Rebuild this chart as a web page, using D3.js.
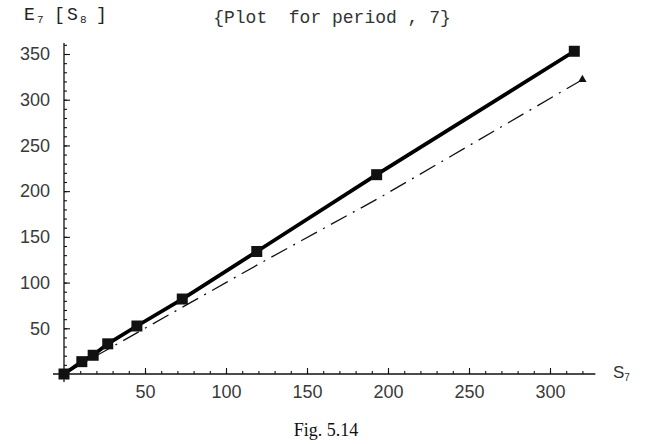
<!DOCTYPE html>
<html>
<head>
<meta charset="utf-8">
<script src="https://cdn.jsdelivr.net/npm/d3@7/dist/d3.min.js"></script>
<style>
  html, body { margin: 0; padding: 0; background: #fff; }
  svg { display: block; }
</style>
</head>
<body>
<svg id="chart" width="652" height="444"></svg>
<script>
// S7 values and the corresponding E7[S8] values
const sValues = [0, 11, 18, 27, 45, 73, 119, 193, 315];
const eValues = [0, 13.5, 20.5, 33, 52.5, 82, 134, 218, 353];

// reference line (dot-dash), ending in a triangle marker
const refS = [0, 45, 120, 195, 320];
const refE = [0, 45, 120, 193, 322];

const xTicks = [50, 100, 150, 200, 250, 300];
const yTicks = [50, 100, 150, 200, 250, 300, 350];

const svg = d3.select("#chart");

const x = d3.scaleLinear().domain([0, 300]).range([64, 550]);
const y = d3.scaleLinear().domain([0, 350]).range([374, 54]);

const xMax = 328, yMax = 362;
const axisColor = "#111";
const labelFont = "'Liberation Sans', Arial, sans-serif";
const monoFont = "'Courier New', 'Liberation Mono', monospace";

// axis lines
svg.append("line")
  .attr("x1", x(0) - 11).attr("x2", x(xMax))
  .attr("y1", y(0)).attr("y2", y(0))
  .attr("stroke", axisColor).attr("stroke-width", 1.3);
svg.append("line")
  .attr("x1", x(0)).attr("x2", x(0))
  .attr("y1", y(0) + 8).attr("y2", y(yMax))
  .attr("stroke", axisColor).attr("stroke-width", 1.3);

// minor ticks every 10 units
const xMinor = d3.range(10, xMax, 10);
const yMinor = d3.range(10, yMax, 10);

const gx = svg.append("g").attr("transform", `translate(0,${y(0)})`);
gx.call(d3.axisBottom(x).tickValues(xMinor).tickSize(-3).tickFormat(""));
gx.append("g").call(d3.axisBottom(x).tickValues(xTicks).tickSize(-6).tickPadding(11).tickFormat(d3.format("d")));
gx.selectAll(".domain").remove();
gx.selectAll("line").attr("stroke", axisColor).attr("stroke-width", 1.1);
gx.selectAll("text").attr("font-family", labelFont).attr("font-size", 18).attr("fill", "#3a3a3a");

const gy = svg.append("g").attr("transform", `translate(${x(0)},0)`);
gy.call(d3.axisLeft(y).tickValues(yMinor).tickSize(-3).tickFormat(""));
gy.append("g").call(d3.axisLeft(y).tickValues(yTicks).tickSize(-6).tickPadding(14).tickFormat(d3.format("d")));
gy.selectAll(".domain").remove();
gy.selectAll("line").attr("stroke", axisColor).attr("stroke-width", 1.1);
gy.selectAll("text").attr("font-family", labelFont).attr("font-size", 18).attr("fill", "#3a3a3a");

// reference dot-dash line
const refData = refS.map((s, i) => ({ s, e: refE[i] }));
const line = d3.line().x(d => x(d.s)).y(d => y(d.e));
svg.append("path")
  .datum(refData)
  .attr("d", line)
  .attr("fill", "none")
  .attr("stroke", "#111")
  .attr("stroke-width", 1.3)
  .attr("stroke-dasharray", "18,7,2,7");

const last = refData[refData.length - 1];
svg.append("path")
  .attr("d", d3.symbol(d3.symbolTriangle, 30)())
  .attr("transform", `translate(${x(last.s)},${y(last.e)})`)
  .attr("fill", "#111");

// main series
const data = sValues.map((s, i) => ({ s, e: eValues[i] }));
svg.append("path")
  .datum(data)
  .attr("d", line)
  .attr("fill", "none")
  .attr("stroke", "#000")
  .attr("stroke-width", 3.8);

const sq = 11;
svg.append("g").selectAll("rect")
  .data(data)
  .join("rect")
  .attr("x", d => x(d.s) - sq / 2)
  .attr("y", d => y(d.e) - sq / 2)
  .attr("width", sq)
  .attr("height", sq)
  .attr("fill", "#111");

// title
svg.append("text")
  .attr("x", 332).attr("y", 23)
  .attr("text-anchor", "middle")
  .attr("font-family", monoFont)
  .attr("font-size", 18)
  .attr("fill", "#333")
  .attr("xml:space", "preserve")
  .text("{Plot  for period , 7}");

// y-axis label E7[S8]
const yl = svg.append("text")
  .attr("y", 20)
  .attr("font-family", monoFont)
  .attr("font-size", 18)
  .attr("fill", "#222");
yl.append("tspan").attr("x", 24).text("E");
yl.append("tspan").attr("x", 37).attr("font-size", 11).attr("dy", 3).text("7");
yl.append("tspan").attr("x", 54).attr("dy", -3).text("[");
yl.append("tspan").attr("x", 67).text("S");
yl.append("tspan").attr("x", 80).attr("font-size", 11).attr("dy", 3).text("8");
yl.append("tspan").attr("x", 96).attr("dy", -3).text("]");

// x-axis label S7
const xl = svg.append("text")
  .attr("x", 613).attr("y", 378)
  .attr("font-family", labelFont)
  .attr("font-size", 17)
  .attr("fill", "#333");
xl.append("tspan").text("S");
xl.append("tspan").attr("font-size", 10).attr("dy", 3).text("7");

// caption
svg.append("text")
  .attr("x", 326).attr("y", 436)
  .attr("text-anchor", "middle")
  .attr("font-family", "'Liberation Serif', 'Times New Roman', serif")
  .attr("font-size", 18)
  .attr("fill", "#111")
  .text("Fig. 5.14");
</script>
</body>
</html>
